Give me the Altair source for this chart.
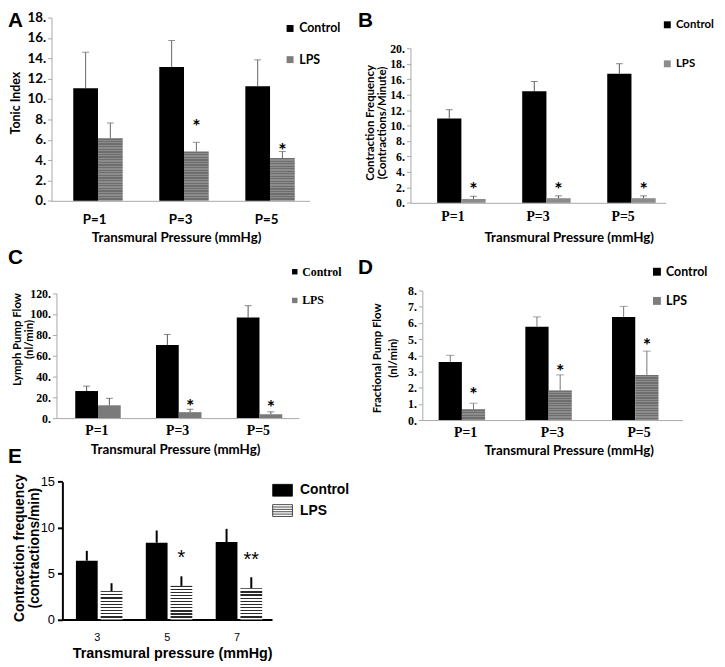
import altair as alt
import pandas as pd

W, H = 717, 659
GROUPS = ["Control", "LPS"]

# ---------------- data ----------------
A_cats = ["P=1", "P=3", "P=5"]
A_ctrl = [11.05, 13.15, 11.25]
A_ctrl_err = [3.55, 2.6, 2.6]
A_lps = [6.15, 4.85, 4.2]
A_lps_err = [1.5, 0.9, 0.65]
A_star_cats = ["P=3", "P=5"]
A_star_y = [7.7, 5.4]
A_star_txt = ["*", "*"]
A_ticks = [0, 2, 4, 6, 8, 10, 12, 14, 16, 18]

B_cats = ["P=1", "P=3", "P=5"]
B_ctrl = [10.9, 14.45, 16.7]
B_ctrl_err = [1.15, 1.25, 1.3]
B_lps = [0.5, 0.6, 0.6]
B_lps_err = [0.35, 0.3, 0.3]
B_star_cats = ["P=1", "P=3", "P=5"]
B_star_y = [2.3, 2.3, 2.3]
B_star_txt = ["*", "*", "*"]
B_ticks = [0, 2, 4, 6, 8, 10, 12, 14, 16, 18, 20]

C_cats = ["P=1", "P=3", "P=5"]
C_ctrl = [26.0, 70.3, 96.6]
C_ctrl_err = [4.7, 10.1, 11.4]
C_lps = [12.3, 5.7, 3.8]
C_lps_err = [6.7, 2.8, 2.2]
C_star_cats = ["P=3", "P=5"]
C_star_y = [14.9, 14.6]
C_star_txt = ["*", "*"]
C_ticks = [0, 20, 40, 60, 80, 100, 120]

D_cats = ["P=1", "P=3", "P=5"]
D_ctrl = [3.58, 5.77, 6.37]
D_ctrl_err = [0.42, 0.6, 0.65]
D_lps = [0.67, 1.83, 2.79]
D_lps_err = [0.37, 0.96, 1.47]
D_star_cats = ["P=1", "P=3", "P=5"]
D_star_y = [1.83, 3.28, 4.85]
D_star_txt = ["*", "*", "*"]
D_ticks = [0, 1, 2, 3, 4, 5, 6, 7, 8]

E_cats = ["3", "5", "7"]
E_ctrl = [6.4, 8.36, 8.43]
E_ctrl_err = [1.07, 1.33, 1.44]
E_lps = [3.09, 3.66, 3.41]
E_lps_err = [0.86, 1.04, 1.19]
E_star_cats = ["5", "7"]
E_star_y = [7.18, 7.0]
E_star_txt = ["*", "**"]
E_ticks = [0, 5, 10, 15]

SANS = "Lato"
SERIF = "Liberation Serif"
ARIAL = "Liberation Sans"


def stripe_fill(n, c_dark, c_light, frac_dark):
    stops = []
    for i in range(n):
        a = i / n
        b = (i + frac_dark) / n
        c = (i + 1) / n
        stops += [
            {"offset": a, "color": c_dark},
            {"offset": b, "color": c_dark},
            {"offset": b, "color": c_light},
            {"offset": c, "color": c_light},
        ]
    return {"gradient": "linear", "x1": 0, "y1": 0, "x2": 0, "y2": 1, "stops": stops}


def panel(cats, ctrl, ctrl_err, lps, lps_err, star_cats, star_y, star_txt, ticks, s):
    x0, x1 = s["xr"]
    yb, yt = s["yr"]
    ymax = ticks[-1]
    rows = []
    for c, v, e in zip(cats, ctrl, ctrl_err):
        rows.append({"cat": c, "group": "Control", "value": v, "top": v + e})
    for c, v, e in zip(cats, lps, lps_err):
        rows.append({"cat": c, "group": "LPS", "value": v, "top": v + e})
    df = pd.DataFrame(rows)
    sdf = pd.DataFrame({"cat": star_cats, "group": ["LPS"] * len(star_cats),
                        "sy": star_y, "txt": star_txt})

    step = (x1 - x0) / len(cats)
    w, g, left = s["bar_w"], s["gap"], s["pair_left"]
    so = w + g
    pi = g / so
    po = (step / so - 2 + pi) / 2
    al = left / (step - (2 * w + g))

    xscale = alt.Scale(domain=cats, range=[x0, x1], paddingInner=0, paddingOuter=0)
    xoscale = alt.Scale(domain=GROUPS, paddingInner=pi, paddingOuter=po, align=al)
    yscale = alt.Scale(domain=[0, ymax], range=[yb, yt], nice=False, zero=False)

    ya = dict(orient="left", offset=-x0, values=ticks, grid=False,
              labelFont=s["ylab_font"], labelFontSize=s["ylab_size"],
              labelFontWeight=s["ylab_weight"], labelColor="black",
              labelPadding=s.get("ylab_pad", 2), labelOverlap=False,
              tickSize=s.get("tick_size", 4), tickColor=s["axis_color"],
              tickWidth=s.get("axis_width", 1),
              domainColor=s["axis_color"], domainWidth=s.get("axis_width", 1),
              title=s["ytitle"], titleFont=s["ytitle_font"],
              titleFontSize=s["ytitle_size"], titleFontWeight="bold",
              titleColor="black", titleAngle=270, titleAlign="center",
              titleBaseline="top", titleX=s["ytitle_xy"][0] - x0,
              titleY=s["ytitle_xy"][1], titleLineHeight=s["ytitle_lh"])
    if s.get("dot"):
        ya["labelExpr"] = "datum.label + '.'"
    xa = dict(orient="bottom", offset=yb - H, ticks=False, tickSize=0,
              labelAngle=0, labelFont=s["xlab_font"], labelFontSize=s["xlab_size"],
              labelFontWeight=s["xlab_weight"], labelColor="black",
              labelPadding=s["xlab_pad"], domainColor=s["axis_color"],
              domainWidth=s.get("axis_width", 1),
              title=s["xtitle"], titleFont=s["xtitle_font"],
              titleFontSize=s["xtitle_size"], titleFontWeight="bold",
              titleColor="black", titleAlign="center", titleBaseline="middle",
              titleX=s["xtitle_xy"][0], titleY=s["xtitle_xy"][1] - yb)
    x_axis = alt.Axis(**xa)
    y_axis = alt.Axis(**ya)

    def X():
        return alt.X("cat:N", scale=xscale, axis=x_axis)

    def XO():
        return alt.XOffset("group:N", scale=xoscale)

    def Y(f):
        return alt.Y(f + ":Q", scale=yscale, axis=y_axis)

    leg = s["legend"]
    layers = []
    layers.append(
        alt.Chart(df).transform_filter("datum.group == 'Control'")
        .mark_bar(strokeWidth=0)
        .encode(x=X(), xOffset=XO(), y=Y("value"),
                color=alt.Color("group:N",
                                scale=alt.Scale(domain=GROUPS,
                                                range=["black", s["lps_legend_color"]]),
                                legend=alt.Legend(**leg)))
    )
    px_per_unit = (yb - yt) / ymax
    if s.get("stripes"):
        c_dark, c_light, frac, pitch = s["stripes"]
        for c, v in zip(cats, lps):
            n = max(1, round(v * px_per_unit / pitch))
            layers.append(
                alt.Chart(df)
                .transform_filter(f"datum.group == 'LPS' && datum.cat == '{c}'")
                .mark_bar(fill=stripe_fill(n, c_dark, c_light, frac), strokeWidth=0)
                .encode(x=X(), xOffset=XO(), y=Y("value"))
            )
    else:
        layers.append(
            alt.Chart(df).transform_filter("datum.group == 'LPS'")
            .mark_bar(fill=s["lps_color"], strokeWidth=0)
            .encode(x=X(), xOffset=XO(), y=Y("value"))
        )
    layers.append(
        alt.Chart(df).mark_rule(color=s["err_color"], strokeWidth=s["err_width"])
        .encode(x=X(), xOffset=XO(), y=Y("value"), y2="top:Q")
    )
    if s.get("cap"):
        layers.append(
            alt.Chart(df).mark_tick(color=s["err_color"], thickness=1, size=s["cap"])
            .encode(x=X(), xOffset=XO(), y=Y("top"))
        )
    layers.append(
        alt.Chart(sdf).mark_text(font=s["star_font"], fontSize=s["star_size"],
                                 fontWeight=s["star_weight"], color="black",
                                 baseline="middle", dy=s["star_dy"])
        .encode(x=X(), xOffset=XO(), y=Y("sy"), text="txt:N")
    )
    layers.append(
        alt.Chart(pd.DataFrame({"t": [s["letter"]]}))
        .mark_text(font=ARIAL, fontSize=21, fontWeight="bold", align="left",
                   baseline="alphabetic", color="black")
        .encode(x=alt.value(s["letter_xy"][0]), y=alt.value(s["letter_xy"][1]), text="t:N")
    )
    return alt.layer(*layers)


def sq_legend(x, y, font, size, row_pad, sym, lab_off):
    return dict(orient="none", legendX=x, legendY=y, title=None, direction="vertical",
                symbolType="square", symbolSize=sym, symbolStrokeWidth=0,
                labelFont=font, labelFontSize=size, labelFontWeight="bold",
                labelColor="black", rowPadding=row_pad, padding=0, labelOffset=lab_off)


GRAYAX = "#a8a8a8"

sA = dict(xr=[44, 305], yr=[191.3, 6], bar_w=25, gap=0, pair_left=22,
          ylab_font=SANS, ylab_size=13.5, ylab_weight="bold", dot=True,
          axis_color=GRAYAX, ytitle="Tonic Index", ytitle_font=SANS, ytitle_size=12.5,
          ytitle_lh=14, ytitle_xy=[1.5, 92],
          xlab_font=SANS, xlab_size=13.5, xlab_weight="bold", xlab_pad=12,
          xtitle="Transmural Pressure (mmHg)", xtitle_font=SANS, xtitle_size=13.5,
          xtitle_xy=[170, 228],
          legend=sq_legend(279, 10.75, SANS, 12.5, 18.5, 49, 3),
          lps_legend_color="#7d7d7d", stripes=("#6e6e6e", "#8c8c8c", 0.5, 2.6),
          err_color="#666666", err_width=1, cap=7,
          star_font=SANS, star_size=20, star_weight="bold", star_dy=5,
          letter="A", letter_xy=[0, 15])

sB = dict(xr=[407, 665], yr=[193.3, 37], bar_w=24.5, gap=0, pair_left=27,
          ylab_font=SERIF, ylab_size=12, ylab_weight="bold", dot=True,
          axis_color=GRAYAX,
          ytitle=["Contraction Frequency", "(Contractions/Minute)"], ytitle_font=SANS,
          ytitle_size=11.5, ytitle_lh=12, ytitle_xy=[361, 112],
          xlab_font=SERIF, xlab_size=14, xlab_weight="bold", xlab_pad=6.5,
          xtitle="Transmural Pressure (mmHg)", xtitle_font=SANS, xtitle_size=13.5,
          xtitle_xy=[567, 228],
          legend=sq_legend(661, 7.5, SANS, 11.5, 26.5, 49, 3),
          lps_legend_color="#8c8c8c", lps_color="#8c8c8c",
          err_color="#555555", err_width=1, cap=7,
          star_font=SANS, star_size=20, star_weight="bold", star_dy=5,
          letter="B", letter_xy=[354, 15])

sC = dict(xr=[49, 294], yr=[411, 284.7], bar_w=23, gap=0, pair_left=19,
          ylab_font=SERIF, ylab_size=12, ylab_weight="bold", dot=True,
          axis_color=GRAYAX,
          ytitle=["Lymph Pump Flow", "(nl/min)"], ytitle_font=SANS,
          ytitle_size=11.5, ytitle_lh=12, ytitle_xy=[3.5, 331],
          xlab_font=SERIF, xlab_size=14, xlab_weight="bold", xlab_pad=5.5,
          xtitle="Transmural Pressure (mmHg)", xtitle_font=SANS, xtitle_size=13.5,
          xtitle_xy=[169, 443],
          legend=sq_legend(284, 257, SERIF, 12, 17, 30, 1.5),
          lps_legend_color="#7a7a7a", lps_color="#7a7a7a",
          err_color="#555555", err_width=1, cap=7,
          star_font=SANS, star_size=20, star_weight="bold", star_dy=5,
          letter="C", letter_xy=[0, 255])

sD = dict(xr=[419, 682], yr=[413, 282], bar_w=23.5, gap=0, pair_left=16.5,
          ylab_font=SERIF, ylab_size=12, ylab_weight="bold", dot=True,
          axis_color=GRAYAX,
          ytitle=["Fractional Pump Flow", "(nl/min)"], ytitle_font=SANS,
          ytitle_size=11.5, ytitle_lh=16, ytitle_xy=[368, 350],
          xlab_font=SERIF, xlab_size=14, xlab_weight="bold", xlab_pad=5.5,
          xtitle="Transmural Pressure (mmHg)", xtitle_font=SANS, xtitle_size=13.5,
          xtitle_xy=[567, 444],
          legend=sq_legend(650, 256.75, SANS, 12.5, 16.5, 64, 3),
          lps_legend_color="#7d7d7d", stripes=("#6e6e6e", "#8c8c8c", 0.5, 2.6),
          err_color="#777777", err_width=1, cap=8,
          star_font=SANS, star_size=20, star_weight="bold", star_dy=5,
          letter="D", letter_xy=[354, 265])

E_PATH = ("M-1.667,-1H1.667V1H-1.667Z M-1.667,-0.6H1.667 M-1.667,-0.2H1.667 "
          "M-1.667,0.2H1.667 M-1.667,0.6H1.667")
sE = dict(xr=[55, 267], yr=[614.7, 475.3], bar_w=22, gap=3, pair_left=13.7,
          ylab_font=ARIAL, ylab_size=13, ylab_weight="normal", ylab_pad=3,
          tick_size=5, axis_color="black", axis_width=2,
          ytitle=["Contraction frequency", "(contractions/min)"], ytitle_font=ARIAL,
          ytitle_size=14, ytitle_lh=15, ytitle_xy=[4.5, 542],
          xlab_font=ARIAL, xlab_size=11, xlab_weight="normal", xlab_pad=12,
          xtitle="Transmural pressure (mmHg)", xtitle_font=ARIAL, xtitle_size=14.5,
          xtitle_xy=[166, 649],
          legend=dict(orient="none", legendX=270.65, legendY=477, title=None,
                      direction="vertical", symbolType=E_PATH, symbolSize=144,
                      symbolStrokeColor="black", symbolStrokeWidth=0.7,
                      labelFont=ARIAL, labelFontSize=14, labelFontWeight="bold",
                      labelColor="black", rowPadding=4.5, padding=0, labelOffset=10.65),
          lps_legend_color="white", stripes=("#2a2a2a", "#ffffff", 0.38, 3.2),
          err_color="black", err_width=2,
          star_font=ARIAL, star_size=20, star_weight="normal", star_dy=5,
          letter="E", letter_xy=[0, 456])

pA = panel(A_cats, A_ctrl, A_ctrl_err, A_lps, A_lps_err, A_star_cats, A_star_y, A_star_txt, A_ticks, sA)
pB = panel(B_cats, B_ctrl, B_ctrl_err, B_lps, B_lps_err, B_star_cats, B_star_y, B_star_txt, B_ticks, sB)
pC = panel(C_cats, C_ctrl, C_ctrl_err, C_lps, C_lps_err, C_star_cats, C_star_y, C_star_txt, C_ticks, sC)
pD = panel(D_cats, D_ctrl, D_ctrl_err, D_lps, D_lps_err, D_star_cats, D_star_y, D_star_txt, D_ticks, sD)
pE = panel(E_cats, E_ctrl, E_ctrl_err, E_lps, E_lps_err, E_star_cats, E_star_y, E_star_txt, E_ticks, sE)

chart = (
    alt.layer(pA, pB, pC, pD, pE)
    .resolve_scale(x="independent", y="independent", xOffset="independent", color="independent")
    .resolve_axis(x="independent", y="independent")
    .resolve_legend(color="independent")
    .properties(width=W, height=H, autosize=alt.AutoSizeParams(type="none"), padding=0,
                background="white")
    .configure_view(stroke="transparent")
)

chart.save("out.html", embed_options={"renderer": "svg", "actions": False})
